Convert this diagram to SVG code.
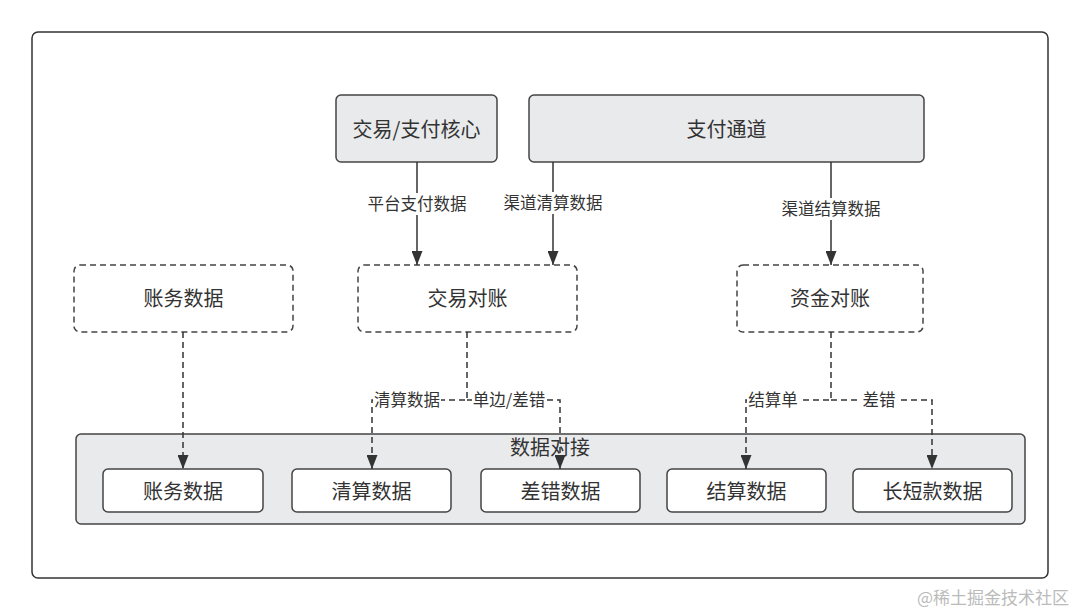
<svg xmlns="http://www.w3.org/2000/svg" width="1080" height="611" viewBox="0 0 1080 611">
<style>
text{font-family:"Noto Sans CJK SC","Liberation Sans",sans-serif;fill:#333;text-anchor:middle;dominant-baseline:central}
.t{font-size:20px}
.l{font-size:16.5px}
.solid{fill:#e8eaec;stroke:#444;stroke-width:1.5}
.dash{fill:#fff;stroke:#444;stroke-width:1.5;stroke-dasharray:6 4}
.inner{fill:#fff;stroke:#444;stroke-width:1.5}
.c{fill:none;stroke:#333;stroke-width:1.5}
.cd{fill:none;stroke:#333;stroke-width:1.5;stroke-dasharray:6 4}
.lb{fill:#fff}
</style>
<defs>
<marker id="ah" viewBox="0 0 14 11" refX="14" refY="5.5" markerWidth="14" markerHeight="11" markerUnits="userSpaceOnUse" orient="auto">
<path d="M0,0 L14,5.5 L0,11 z" fill="#333"/>
</marker>
</defs>
<rect width="1080" height="611" fill="#fff"/>
<rect id="frame" x="32" y="32" width="1016" height="546" rx="6" fill="#fff" stroke="#333" stroke-width="1.5"/>
<g id="group-dock">
<rect x="76" y="434" width="949" height="90" rx="5" fill="#e8eaec" stroke="#444" stroke-width="1.5"/>
<text class="t" x="550" y="446">数据对接</text>
</g>
<g id="core"><rect class="solid" x="336" y="95" width="161" height="67" rx="5"/><text class="t" x="416.5" y="128">交易/支付核心</text></g>
<g id="channel"><rect class="solid" x="529" y="95" width="395" height="67" rx="5"/><text class="t" x="726.5" y="128">支付通道</text></g>
<g id="ledger"><rect class="dash" x="74" y="265" width="219" height="67" rx="6"/><text class="t" x="183.5" y="297">账务数据</text></g>
<g id="trade-recon"><rect class="dash" x="358" y="265" width="219" height="67" rx="6"/><text class="t" x="467.5" y="297">交易对账</text></g>
<g id="fund-recon"><rect class="dash" x="737" y="265" width="186" height="67" rx="6"/><text class="t" x="830" y="297">资金对账</text></g>
<g id="d1"><rect class="inner" x="103" y="469" width="160" height="43" rx="5"/><text class="t" x="183" y="490">账务数据</text></g>
<g id="d2"><rect class="inner" x="292" y="469" width="159" height="43" rx="5"/><text class="t" x="371.5" y="490">清算数据</text></g>
<g id="d3"><rect class="inner" x="481" y="469" width="159" height="43" rx="5"/><text class="t" x="560.5" y="490">差错数据</text></g>
<g id="d4"><rect class="inner" x="667" y="469" width="159" height="43" rx="5"/><text class="t" x="746.5" y="490">结算数据</text></g>
<g id="d5"><rect class="inner" x="853" y="469" width="159" height="43" rx="5"/><text class="t" x="932.5" y="490">长短款数据</text></g>
<g id="connectors">
<path class="c" d="M417,162 V265" marker-end="url(#ah)"/>
<path class="c" d="M553,162 V265" marker-end="url(#ah)"/>
<path class="c" d="M831,162 V265" marker-end="url(#ah)"/>
<path class="cd" d="M183,332 V469" marker-end="url(#ah)"/>
<path class="cd" d="M467,332 V400 H372 V469" marker-end="url(#ah)"/>
<path class="cd" d="M467,400 H560 V469" marker-end="url(#ah)"/>
<path class="cd" d="M831,332 V400 H746 V469" marker-end="url(#ah)"/>
<path class="cd" d="M831,400 H932 V469" marker-end="url(#ah)"/>
<rect class="lb" x="366" y="193" width="102" height="22"/>
<text class="l" x="417" y="203">平台支付数据</text>
<rect class="lb" x="502" y="192" width="102" height="22"/>
<text class="l" x="553" y="202">渠道清算数据</text>
<rect class="lb" x="780" y="198" width="102" height="22"/>
<text class="l" x="831" y="208">渠道结算数据</text>
<rect class="lb" x="373" y="390" width="68" height="20"/>
<text class="l" x="407" y="399">清算数据</text>
<rect class="lb" x="472" y="390" width="74" height="20"/>
<text class="l" x="509" y="399">单边/差错</text>
<rect class="lb" x="747" y="390" width="52" height="20"/>
<text class="l" x="773" y="399">结算单</text>
<rect class="lb" x="861" y="390" width="36" height="20"/>
<text class="l" x="879" y="399">差错</text>
</g>
<text x="993" y="596" style="font-size:17px;fill:#bbb">@稀土掘金技术社区</text>
</svg>
